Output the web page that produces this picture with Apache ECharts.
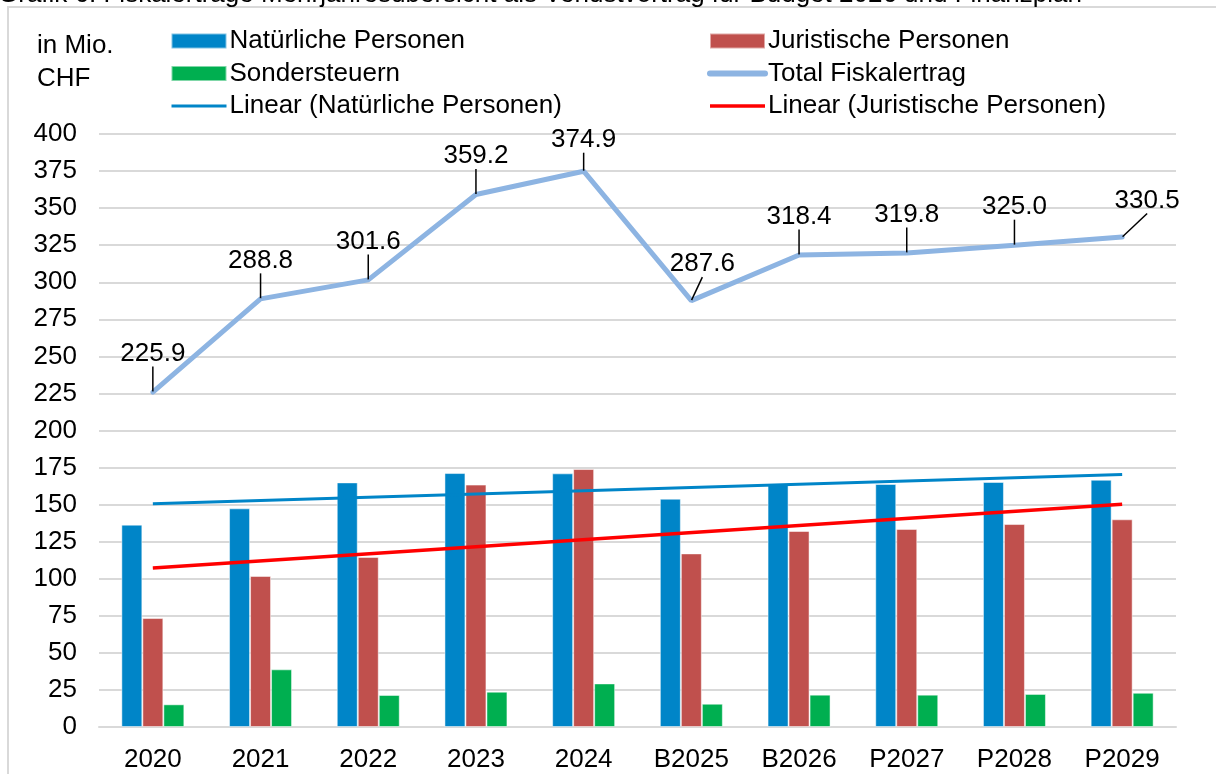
<!DOCTYPE html>
<html>
<head>
<meta charset="utf-8">
<script src="https://cdn.jsdelivr.net/npm/echarts@6/dist/echarts.min.js"></script>
<style>
  html, body { margin: 0; padding: 0; background: #fff; }
  #grafik { width: 1216px; height: 774px; }
</style>
</head>
<body>
<div id="grafik"></div>
<script>
// Daten (in Mio. CHF)
const jahre = ["2020", "2021", "2022", "2023", "2024", "B2025", "B2026", "P2027", "P2028", "P2029"];
const natuerliche = [136.5, 147.5, 165.0, 171.3, 171.1, 154.0, 164.0, 163.9, 165.3, 166.8];
const juristische = [73.5, 101.9, 114.7, 163.5, 174.0, 117.1, 132.2, 133.6, 136.9, 140.1];
const sondersteuern = [15.3, 38.9, 21.6, 23.8, 29.4, 15.7, 21.8, 21.8, 22.3, 23.1];
const total = [225.9, 288.8, 301.6, 359.2, 374.9, 287.6, 318.4, 319.8, 325.0, 330.5];
// Trendlinien: Anfangs- und Endwert
const trendNat = [150.6, 170.4];
const trendJur = [107.2, 150.2];

const schrift = "Liberation Sans, Arial, sans-serif";
const ohneSymbol = { opacity: 0 }; // Legende: nur Linie, kein Punkt

const chart = echarts.init(document.getElementById("grafik"));

const legendeBasis = {
  orient: "vertical",
  top: 28,
  padding: 0,
  itemWidth: 55,
  itemHeight: 15,
  itemGap: 6.5,
  textStyle: { fontSize: 26, lineHeight: 26, color: "#000", fontFamily: schrift, padding: [0, 0, 0, -2] }
};

chart.setOption({
  animation: false,
  backgroundColor: "#fff",
  textStyle: { fontFamily: schrift, color: "#000" },
  graphic: [
    {
      type: "rect",
      shape: { x: 8, y: 7, width: 1300, height: 900 },
      style: { fill: "none", stroke: "#d9d9d9", lineWidth: 2 }
    },
    {
      type: "text",
      left: -2,
      top: -18,
      style: {
        text: "Grafik 6: Fiskalerträge Mehrjahresübersicht als Verlustvortrag für Budget 2026 und Finanzplan",
        font: "26px " + schrift,
        fill: "#000"
      }
    },
    {
      type: "text",
      left: 37,
      top: 29,
      style: { text: "in Mio.\nCHF", font: "26px " + schrift, lineHeight: 33, fill: "#000" }
    }
  ],
  legend: [
    Object.assign({}, legendeBasis, {
      left: 170,
      data: [
        { name: "Natürliche Personen", icon: "rect" },
        { name: "Sondersteuern", icon: "rect" },
        { name: "Linear (Natürliche Personen)", itemStyle: ohneSymbol, lineStyle: { width: 3 } }
      ]
    }),
    Object.assign({}, legendeBasis, {
      left: 707,
      data: [
        { name: "Juristische Personen", icon: "rect" },
        { name: "Total Fiskalertrag", itemStyle: ohneSymbol, lineStyle: { width: 6, cap: "round" } },
        { name: "Linear (Juristische Personen)", itemStyle: ohneSymbol, lineStyle: { width: 3.5 } }
      ]
    })
  ],
  grid: { left: 99, right: 40, top: 134, bottom: 47 },
  xAxis: {
    type: "category",
    data: jahre,
    axisTick: { show: false },
    axisLine: { lineStyle: { color: "#d9d9d9", width: 2 } },
    axisLabel: { fontSize: 26, color: "#000", margin: 20, fontFamily: schrift }
  },
  yAxis: {
    type: "value",
    min: 0,
    max: 400,
    interval: 25,
    axisLine: { show: false },
    axisTick: { show: false },
    splitLine: { lineStyle: { color: "#d9d9d9", width: 2 } },
    axisLabel: { fontSize: 26, color: "#000", margin: 22, fontFamily: schrift }
  },
  series: [
    {
      name: "Natürliche Personen",
      type: "bar",
      data: natuerliche,
      barWidth: 21,
      barGap: "0%",
      itemStyle: { color: "#0085c8", borderColor: "rgba(255,255,255,0.5)", borderWidth: 1 }
    },
    {
      name: "Juristische Personen",
      type: "bar",
      data: juristische,
      barWidth: 21,
      barGap: "0%",
      itemStyle: { color: "#c0504d", borderColor: "rgba(255,255,255,0.5)", borderWidth: 1 }
    },
    {
      name: "Sondersteuern",
      type: "bar",
      data: sondersteuern,
      barWidth: 21,
      barGap: "0%",
      itemStyle: { color: "#00af50", borderColor: "rgba(255,255,255,0.5)", borderWidth: 1 }
    },
    {
      name: "Linear (Natürliche Personen)",
      type: "line",
      data: [[0, trendNat[0]], [jahre.length - 1, trendNat[1]]],
      symbol: "none",
      z: 3,
      lineStyle: { color: "#0085c8", width: 3 },
      itemStyle: { color: "#0085c8" }
    },
    {
      name: "Linear (Juristische Personen)",
      type: "line",
      data: [[0, trendJur[0]], [jahre.length - 1, trendJur[1]]],
      symbol: "none",
      z: 3,
      lineStyle: { color: "#ff0000", width: 3.5 },
      itemStyle: { color: "#ff0000" }
    },
    {
      name: "Total Fiskalertrag",
      type: "line",
      data: total,
      symbol: "circle",
      symbolSize: 1,
      z: 4,
      lineStyle: { color: "#8db4e2", width: 5, cap: "round" },
      itemStyle: { color: "#8db4e2" },
      label: {
        show: true,
        position: "top",
        distance: 4,
        fontSize: 26,
        color: "#000",
        fontFamily: schrift,
        formatter: (p) => p.value.toFixed(1)
      },
      labelLine: { show: true, lineStyle: { color: "#000", width: 1.5 } },
      labelLayout: (p) => {
        if (p.dataIndex === 5) return { dx: 11, dy: -19 };
        if (p.dataIndex === 9) return { dx: 25, dy: -19 };
        if (p.dataIndex === 4) return { dy: -14 };
        return { dy: -21 };
      }
    }
  ]
});
</script>
</body>
</html>
